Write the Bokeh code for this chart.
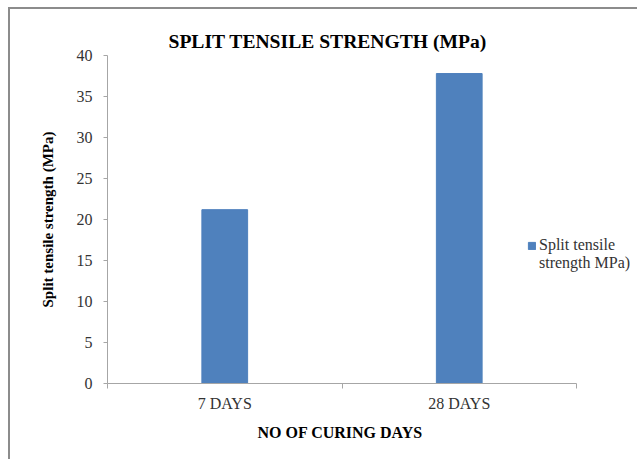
from bokeh.plotting import figure
from bokeh.models import (Range1d, LinearAxis, FixedTicker, Legend,
                          LegendItem, Title)
from bokeh.embed import file_html
from bokeh.resources import INLINE

# Split tensile strength at each curing age
categories = ["7 DAYS", "28 DAYS"]
strength = [21.2, 37.8]
y_ticks = [0, 5, 10, 15, 20, 25, 30, 35, 40]

series_lines = ["Split tensile", "strength MPa)"]
title_text = "SPLIT TENSILE STRENGTH (MPa)"
x_title = "NO OF CURING DAYS"
y_title = "Split tensile strength (MPa)"

SERIF = "Liberation Serif"
BAR = "#4f81bd"
AXIS = "#a6a6a6"

# each category occupies one unit slot; bars sit in the middle of their slot
n = len(categories)
centers = [i + 0.5 for i in range(n)]
edges = list(range(n + 1))

# the drawing frame runs on past the category axis to hold the legend
AXIS_PX, FRAME_PX = 469, 530
x_end = n * FRAME_PX / AXIS_PX

p = figure(width=629, height=452, output_backend="svg", toolbar_location=None,
           x_range=Range1d(0, x_end), y_range=Range1d(0, 40),
           x_axis_location=None, y_axis_location=None,
           min_border_left=97, min_border_right=2,
           min_border_top=46, min_border_bottom=78)
p.margin = (9, 0, 0, 10)
p.styles = {"box-shadow": "-2px -2px 0 0 #8c8c8c"}
p.title.text = title_text
p.title.align = "left"
p.title.offset = 61
p.title.text_font = SERIF
p.title.text_font_size = "19.6px"
p.title.text_font_style = "bold"
p.title.text_color = "#000000"
p.title.standoff = 7
p.grid.visible = False
p.outline_line_color = None
p.background_fill_color = "white"
p.border_fill_color = "white"

# value axis
yax = LinearAxis(ticker=FixedTicker(ticks=y_ticks))
yax.axis_line_color = AXIS
yax.major_tick_line_color = AXIS
yax.major_tick_out = 4
yax.major_tick_in = 0
yax.minor_tick_line_color = None
yax.major_label_standoff = 11
yax.major_label_text_font = SERIF
yax.major_label_text_font_size = "16px"
yax.major_label_text_color = "#333333"
yax.axis_label = y_title
yax.axis_label_text_font = SERIF
yax.axis_label_text_font_size = "15px"
yax.axis_label_text_font_style = "bold"
yax.axis_label_text_color = "#000000"
yax.axis_label_standoff = 18
p.add_layout(yax, "left")

# category axis line with tick marks on the slot boundaries
edge_ax = LinearAxis(ticker=FixedTicker(ticks=edges), bounds=(0, n))
edge_ax.axis_line_color = AXIS
edge_ax.major_tick_line_color = AXIS
edge_ax.major_tick_out = 5
edge_ax.major_tick_in = 0
edge_ax.minor_tick_line_color = None
edge_ax.major_label_overrides = {e: "" for e in edges}
edge_ax.major_label_standoff = 0
p.add_layout(edge_ax, "below")

# category names centred under each bar
cat_ax = LinearAxis(ticker=FixedTicker(ticks=centers), bounds=(0, n))
cat_ax.axis_line_color = None
cat_ax.major_tick_line_color = None
cat_ax.minor_tick_line_color = None
cat_ax.major_label_overrides = {c: name for c, name in zip(centers, categories)}
cat_ax.major_label_standoff = 0
cat_ax.major_label_text_font = SERIF
cat_ax.major_label_text_font_size = "16px"
cat_ax.major_label_text_color = "#333333"
p.add_layout(cat_ax, "below")

# category axis title, centred under the category axis span
p.add_layout(Title(text=x_title, align="left", offset=150, standoff=14,
                   text_font=SERIF, text_font_size="16px",
                   text_font_style="bold", text_color="#000000"), "below")

bars = p.vbar(x=centers, top=strength, width=0.195, bottom=0,
              fill_color=BAR, line_color=BAR)
# the series name wraps onto a second legend line with no swatch of its own
wrap = p.vbar(x=[], top=[], width=0.195, fill_alpha=0, line_alpha=0)

legend = Legend(items=[LegendItem(label=series_lines[0], renderers=[bars]),
                       LegendItem(label=series_lines[1], renderers=[wrap])],
                location=(420, 111), orientation="vertical",
                border_line_color=None, background_fill_alpha=0,
                padding=0, margin=0, spacing=-2,
                glyph_width=9, glyph_height=9, label_height=16,
                label_standoff=3, label_text_font=SERIF,
                label_text_font_size="16px", label_text_color="#333333")
p.add_layout(legend, "center")

open("out.html", "w").write(file_html(p, INLINE))
